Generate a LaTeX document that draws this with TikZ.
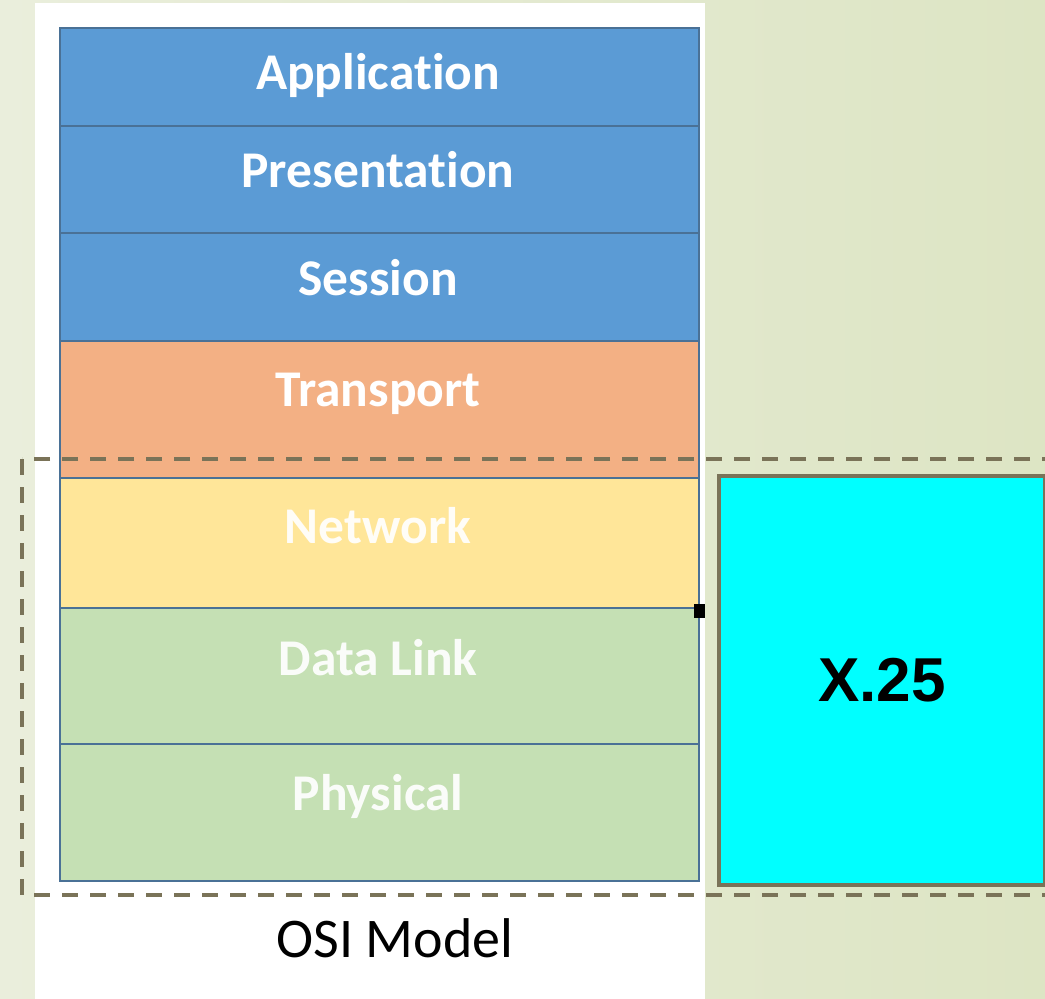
\documentclass[tikz,border=0pt]{standalone}
\usepackage{fontspec}
\setmainfont{Carlito}[Ligatures={NoCommon}]
\newfontfamily\arialbold{Liberation Sans}[BoldFont={* Bold}]
\definecolor{bgleft}{RGB}{234,238,220}
\definecolor{bgright}{RGB}{221,229,196}
\definecolor{layerblue}{HTML}{5B9BD5}
\definecolor{layerorange}{HTML}{F3B084}
\definecolor{layeryellow}{HTML}{FFE699}
\definecolor{layergreen}{HTML}{C5E0B4}
\definecolor{layeredge}{HTML}{4A7196}
\definecolor{olive}{HTML}{7A7358}
\definecolor{xcyan}{HTML}{00FFFF}
\tikzset{
  layer/.style={draw=layeredge, line width=2pt, inner sep=0pt, anchor=north west,
    minimum width=639pt},
  layertext/.style={anchor=base, text=white, inner sep=0pt,
    font=\bfseries\fontsize{51.5}{62}\selectfont},
  fadetext/.style={layertext, text opacity=0.92},
  groupbox/.style={draw=olive, line width=3.6pt, dash pattern=on 16pt off 12pt},
  protobox/.style={draw=olive, line width=3.6pt, fill=xcyan, inner sep=0pt,
    minimum width=326pt, minimum height=409pt,
    font=\arialbold\bfseries\fontsize{62}{74}\selectfont},
}
\begin{document}
\begin{tikzpicture}[x=1pt, y=-1pt]
  % page background
  \shade[left color=bgleft, right color=bgright] (0,0) rectangle (1045,999);
  \useasboundingbox (0,0) rectangle (1045,999);
  % white panel behind the stack
  \fill[white] (35,3) rectangle (705,999);

  % OSI layers
  \node[layer, fill=layerblue,   minimum height=98pt]  (app)  at (59,27)  {};
  \node[layer, fill=layerblue,   minimum height=107pt] (pres) at (59,125) {};
  \node[layer, fill=layerblue,   minimum height=108pt] (sess) at (59,232) {};
  \node[layer, fill=layerorange, minimum height=137pt] (trans) at (59,340) {};
  \node[layer, fill=layeryellow, minimum height=130pt] (net)  at (59,477) {};
  \node[layer, fill=layergreen,  minimum height=137pt] (dl)   at (59,607) {};
  \node[layer, fill=layergreen,  minimum height=137pt] (phy)  at (59,743) {};

  \node[layertext] (tapp)   at (378,89)  {Application};
  \node[layertext] (tpres)  at (378,187) {Presentation};
  \node[layertext] (tsess)  at (378,295) {Session};
  \node[layertext] (ttrans) at (378,406) {Transport};
  \node[fadetext]  (tnet)   at (378,543) {Network};
  \node[fadetext]  (tdl)    at (378,675) {Data Link};
  \node[fadetext]  (tphy)   at (378,810) {Physical};

  % small marker on the stack edge
  \fill[black] (694,604) rectangle (705,618);

  % caption
  \node[anchor=base, inner sep=0pt, font=\fontsize{56}{66}\selectfont] (cap) at (395,957) {OSI Model};

  % X.25 block and its dashed grouping
  \node[protobox, anchor=north west] (x25) at (717,474) {X.25};
  \draw[groupbox] (22,459) rectangle (1070,895);
\end{tikzpicture}
\end{document}
